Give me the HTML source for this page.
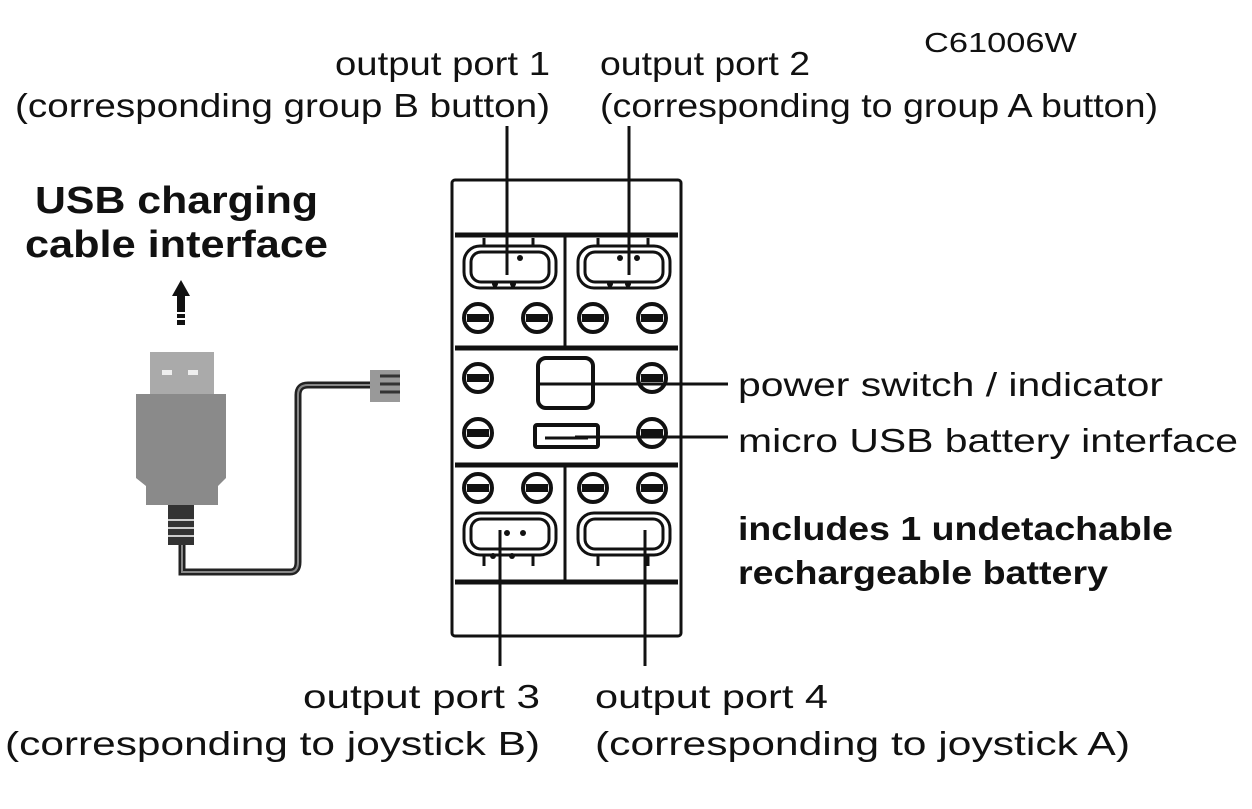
<!DOCTYPE html>
<html><head><style>
body{margin:0;width:1252px;height:809px;background:#fff;overflow:hidden;position:relative;font-family:"Liberation Sans",sans-serif;color:#111}
</style></head><body>
<svg width="1252" height="809" style="position:absolute;left:0;top:0">
<g font-family="Liberation Sans, sans-serif" font-size="33" fill="#111">
<text x="335" y="75" textLength="215" lengthAdjust="spacingAndGlyphs">output port 1</text>
<text x="15" y="117" textLength="535" lengthAdjust="spacingAndGlyphs">(corresponding group B button)</text>
<text x="600" y="75" textLength="210" lengthAdjust="spacingAndGlyphs">output port 2</text>
<text x="600" y="117" textLength="558" lengthAdjust="spacingAndGlyphs">(corresponding to group A button)</text>
<text x="738" y="396" textLength="425" lengthAdjust="spacingAndGlyphs">power switch / indicator</text>
<text x="738" y="452" textLength="500" lengthAdjust="spacingAndGlyphs">micro USB battery interface</text>
<text x="303" y="708" textLength="237" lengthAdjust="spacingAndGlyphs">output port 3</text>
<text x="5" y="755" textLength="535" lengthAdjust="spacingAndGlyphs">(corresponding to joystick B)</text>
<text x="595" y="708" textLength="233" lengthAdjust="spacingAndGlyphs">output port 4</text>
<text x="595" y="755" textLength="535" lengthAdjust="spacingAndGlyphs">(corresponding to joystick A)</text>
<text x="924" y="52" font-size="28" textLength="153" lengthAdjust="spacingAndGlyphs">C61006W</text>
<g font-weight="bold">
<text x="35" y="213" font-size="38" textLength="283" lengthAdjust="spacingAndGlyphs">USB charging</text>
<text x="25" y="257" font-size="38" textLength="303" lengthAdjust="spacingAndGlyphs">cable interface</text>
<text x="738" y="540" font-size="33" textLength="435" lengthAdjust="spacingAndGlyphs">includes 1 undetachable</text>
<text x="738" y="584" font-size="33" textLength="370" lengthAdjust="spacingAndGlyphs">rechargeable battery</text>
</g>
</g>
<g fill="none" stroke="#111" stroke-width="3">
<rect x="452" y="180" width="229" height="456" rx="3"/>
<line x1="455" y1="235" x2="678" y2="235" stroke-width="5"/>
<line x1="455" y1="348" x2="678" y2="348" stroke-width="5"/>
<line x1="455" y1="465" x2="678" y2="465" stroke-width="5"/>
<line x1="455" y1="582" x2="678" y2="582" stroke-width="5"/>
<line x1="565" y1="235" x2="565" y2="348"/>
<line x1="565" y1="465" x2="565" y2="582"/>
<rect x="464" y="246" width="92" height="42" rx="16"/><rect x="471" y="252" width="78" height="30" rx="10"/>
<rect x="578" y="246" width="92" height="42" rx="16"/><rect x="585" y="252" width="78" height="30" rx="10"/>
<rect x="464" y="513" width="92" height="42" rx="16"/><rect x="471" y="519" width="78" height="30" rx="10"/>
<rect x="578" y="513" width="92" height="42" rx="16"/><rect x="585" y="519" width="78" height="30" rx="10"/>
<path d="M484 246 V238 M533 246 V238 M598 246 V238 M648 246 V238 M484 555 V566 M533 555 V566 M598 555 V566 M648 555 V566"/>
<rect x="538" y="358" width="55" height="50" rx="8" stroke-width="4"/>
<rect x="535" y="425" width="63" height="22" rx="2" stroke-width="4"/>
<line x1="545" y1="438" x2="588" y2="438" stroke-width="3"/>
</g>
<g fill="#fff" stroke="#111" stroke-width="4">
<circle cx="478" cy="318" r="14"/><circle cx="537" cy="318" r="14"/><circle cx="593" cy="318" r="14"/><circle cx="652" cy="318" r="14"/>
<circle cx="478" cy="378" r="14"/><circle cx="652" cy="378" r="14"/><circle cx="478" cy="433" r="14"/><circle cx="652" cy="433" r="14"/>
<circle cx="478" cy="488" r="14"/><circle cx="537" cy="488" r="14"/><circle cx="593" cy="488" r="14"/><circle cx="652" cy="488" r="14"/>
</g>
<g fill="#111">
<rect x="467" y="314" width="22" height="8"/><rect x="526" y="314" width="22" height="8"/><rect x="582" y="314" width="22" height="8"/><rect x="641" y="314" width="22" height="8"/>
<rect x="467" y="374" width="22" height="8"/><rect x="641" y="374" width="22" height="8"/><rect x="467" y="429" width="22" height="8"/><rect x="641" y="429" width="22" height="8"/>
<rect x="467" y="484" width="22" height="8"/><rect x="526" y="484" width="22" height="8"/><rect x="582" y="484" width="22" height="8"/><rect x="641" y="484" width="22" height="8"/>
<circle cx="495" cy="284" r="3"/><circle cx="513" cy="284" r="3"/><circle cx="520" cy="258" r="3"/>
<circle cx="610" cy="284" r="3"/><circle cx="628" cy="284" r="3"/><circle cx="620" cy="258" r="3"/><circle cx="637" cy="258" r="3"/>
<circle cx="507" cy="533" r="3"/><circle cx="523" cy="533" r="3"/><circle cx="493" cy="556" r="3"/><circle cx="512" cy="556" r="3"/>
</g>
<g stroke="#111" stroke-width="3">
<line x1="507" y1="126" x2="507" y2="275"/>
<line x1="629" y1="126" x2="629" y2="275"/>
<line x1="500" y1="530" x2="500" y2="666"/>
<line x1="645" y1="530" x2="645" y2="666"/>
<line x1="540" y1="384" x2="728" y2="384"/>
<line x1="575" y1="437" x2="728" y2="437"/>
</g>
<path d="M182 540 L182 572 L290 572 Q298 572 298 562 L298 395 Q298 385 308 385 L372 385" fill="none" stroke="#222" stroke-width="7"/>
<path d="M182 540 L182 572 L290 572 Q298 572 298 562 L298 395 Q298 385 308 385 L372 385" fill="none" stroke="#888" stroke-width="2"/>
<rect x="370" y="370" width="30" height="32" fill="#999"/>
<g stroke="#333" stroke-width="3"><line x1="380" y1="376" x2="400" y2="376"/><line x1="380" y1="384" x2="400" y2="384"/><line x1="380" y1="392" x2="400" y2="392"/></g>
<rect x="150" y="352" width="64" height="46" fill="#aaa"/>
<rect x="162" y="370" width="10" height="5" fill="#eee"/><rect x="188" y="370" width="10" height="5" fill="#eee"/>
<path d="M136 394 L226 394 L226 478 L218 486 L218 505 L146 505 L146 486 L136 478 Z" fill="#8a8a8a"/>
<rect x="168" y="505" width="26" height="40" fill="#333"/>
<g stroke="#ccc" stroke-width="2"><line x1="168" y1="520" x2="194" y2="520"/><line x1="168" y1="528" x2="194" y2="528"/><line x1="168" y1="536" x2="194" y2="536"/></g>
<path d="M181 280 L190 296 L185 296 L185 325 L177 325 L177 296 L172 296 Z" fill="#111"/>
<g stroke="#fff" stroke-width="2"><line x1="176" y1="313" x2="186" y2="313"/><line x1="176" y1="319" x2="186" y2="319"/></g>
</svg>
</body></html>
